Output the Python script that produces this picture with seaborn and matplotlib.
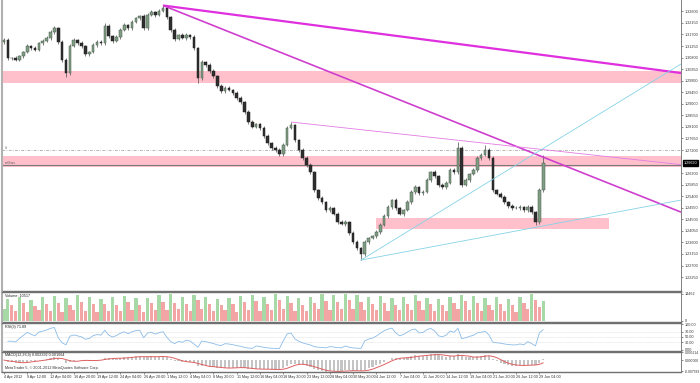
import matplotlib
matplotlib.use("Agg")
import numpy as np
import pandas as pd
import matplotlib.pyplot as plt
import seaborn as sns

# ---------------- data ----------------
first_open = 1.3140
closes = [
    1.3149, 1.3078, 1.3078, 1.3071, 1.3086, 1.3102, 1.3125, 1.3117, 1.3110, 1.3137,
    1.3145, 1.3156, 1.3180, 1.3195, 1.3141, 1.3071, 1.3020, 1.3125, 1.3149, 1.3137,
    1.3125, 1.3094, 1.3102, 1.3129, 1.3141, 1.3137, 1.3203, 1.3164, 1.3145, 1.3160,
    1.3188, 1.3207, 1.3195, 1.3219, 1.3234, 1.3242, 1.3195, 1.3246, 1.3258, 1.3246,
    1.3262, 1.3273, 1.3238, 1.3188, 1.3153, 1.3168, 1.3156, 1.3168, 1.3160, 1.3117,
    1.3001, 1.3063, 1.3051, 1.3028, 1.3008, 1.2969, 1.2950, 1.2962, 1.2954, 1.2942,
    1.2923, 1.2907, 1.2868, 1.2829, 1.2810, 1.2821, 1.2806, 1.2775, 1.2747, 1.2728,
    1.2720, 1.2704, 1.2740, 1.2806, 1.2817, 1.2759, 1.2720, 1.2689, 1.2662, 1.2634,
    1.2564, 1.2533, 1.2517, 1.2486, 1.2494, 1.2471, 1.2440, 1.2432, 1.2440, 1.2397,
    1.2362, 1.2338, 1.2315, 1.2362, 1.2377, 1.2385, 1.2401, 1.2428, 1.2463, 1.2498,
    1.2525, 1.2494, 1.2471, 1.2486, 1.2517, 1.2556, 1.2576, 1.2552, 1.2556, 1.2603,
    1.2634, 1.2619, 1.2584, 1.2576, 1.2591, 1.2642, 1.2634, 1.2728, 1.2584, 1.2603,
    1.2626, 1.2642, 1.2689, 1.2701, 1.2720, 1.2689, 1.2564, 1.2549, 1.2537, 1.2517,
    1.2502, 1.2494, 1.2494, 1.2498, 1.2486, 1.2498, 1.2478, 1.2440, 1.2564, 1.2669,
]
hi_pips = [
    8, 6, 5, 7, 6, 5, 8, 6, 7, 5,
    6, 7, 6, 10, 5, 6, 7, 8, 6, 5,
    7, 6, 5, 8, 6, 7, 12, 6, 5, 7,
    6, 8, 5, 7, 6, 5, 9, 6, 7, 5,
    6, 10, 7, 6, 8, 5, 7, 6, 5, 8,
    6, 9, 5, 7, 6, 5, 8, 6, 7, 5,
    6, 7, 5, 6, 8, 6, 5, 7, 6, 5,
    7, 6, 8, 9, 12, 6, 5, 7, 6, 8,
    6, 5, 7, 6, 8, 5, 6, 7, 9, 5,
    6, 7, 5, 8, 6, 5, 7, 6, 8, 9,
    6, 7, 5, 6, 8, 7, 6, 5, 7, 8,
    6, 7, 5, 6, 7, 8, 6, 23, 7, 6,
    5, 7, 8, 6, 19, 7, 6, 5, 7, 6,
    5, 7, 6, 8, 5, 6, 7, 5, 8, 31,
]
lo_pips = [
    6, 9, 7, 6, 5, 7, 6, 8, 5, 6,
    7, 5, 6, 7, 8, 9, 15, 6, 5, 7,
    6, 8, 7, 5, 6, 7, 6, 8, 7, 5,
    6, 5, 7, 6, 5, 7, 9, 6, 5, 7,
    5, 6, 8, 9, 7, 6, 5, 7, 6, 9,
    20, 7, 6, 8, 7, 9, 6, 7, 5, 6,
    7, 8, 9, 7, 6, 5, 7, 8, 6, 7,
    6, 9, 7, 5, 6, 8, 7, 6, 9, 8,
    7, 6, 8, 7, 6, 5, 7, 6, 8, 7,
    8, 9, 24, 6, 7, 5, 6, 7, 5, 6,
    7, 8, 6, 7, 5, 6, 7, 8, 6, 5,
    6, 7, 8, 6, 7, 5, 6, 7, 9, 6,
    7, 5, 6, 7, 6, 8, 7, 6, 5, 7,
    6, 7, 5, 6, 8, 7, 6, 12, 9, 7,
]
volumes = [
    6200, 11800, 8400, 5100, 12600, 9300, 4800, 11200, 7900, 5600,
    12900, 8800, 5200, 13400, 9600, 4700, 12100, 8300, 5900, 13800,
    10200, 5400, 12400, 8700, 4900, 11600, 9100, 5300, 12800, 8600,
    5000, 13200, 9900, 5700, 12300, 8200, 4600, 11900, 9400, 5800,
    13600, 10100, 5500, 14100, 9700, 6100, 12700, 8900, 5200, 13900,
    10800, 6300, 12500, 9200, 5100, 11700, 8500, 5600, 12200, 9000,
    4900, 13100, 9800, 6000, 13700, 10400, 5300, 12600, 8800, 5700,
    14300, 10900, 6400, 13300, 9500, 5000, 12000, 8600, 5400, 12900,
    9300, 6200, 14000, 10600, 5800, 13500, 9900, 6100, 14200, 11000,
    6500, 13800, 10200, 5600, 12800, 9100, 5900, 13400, 9600, 5200,
    12100, 8400, 5500, 12700, 9200, 6000, 13600, 10300, 5700, 12300,
    8900, 5100, 11800, 8300, 5400, 12500, 9400, 6100, 13900, 10700,
    5800, 13200, 9700, 5300, 12000, 8600, 5600, 12600, 9000, 5000,
    11500, 8200, 4800, 12400, 9500, 6300, 14400, 11200, 7400, 10517,
]
date_labels = [
    "4 Apr 2012", "9 Apr 12:00", "12 Apr 04:00", "16 Apr 20:00", "19 Apr 12:00",
    "24 Apr 04:00", "26 Apr 20:00", "1 May 12:00", "4 May 04:00", "8 May 20:00",
    "11 May 12:00", "16 May 04:00", "18 May 20:00", "23 May 12:00", "28 May 04:00",
    "30 May 20:00", "4 Jun 12:00", "7 Jun 04:00", "11 Jun 20:00", "14 Jun 12:00",
    "19 Jun 04:00", "21 Jun 20:00", "26 Jun 12:00", "29 Jun 04:00",
]
date_bars = [0, 6, 12, 18, 24, 30, 36, 42, 48, 54, 60, 66, 72, 78, 84, 90,
             96, 102, 108, 114, 120, 126, 132, 138]
price_ticks = [1.3260, 1.3215, 1.3170, 1.3125, 1.3080, 1.3035, 1.2990, 1.2945,
               1.2900, 1.2855, 1.2810, 1.2765, 1.2720, 1.2630, 1.2585, 1.2540,
               1.2495, 1.2450, 1.2405, 1.2360, 1.2315, 1.2270, 1.2225]
last_price = 1.2669
last_price_text = "1.26690"
zone_full = [(1.2981, 1.3028), (1.2654, 1.2697)]
zone_part = (1.2412, 1.2455, 96, 156)
dashed_level = 1.2720
bid_level = 1.2660
magenta_lines = [((41, 1.3283), (174.5, 1.3020)),
                 ((41, 1.3283), (174.5, 1.2478)),
                 ((74, 1.2829), (174.5, 1.2663))]
cyan_lines = [((92, 1.2291), (174.5, 1.3055)),
              ((92, 1.2291), (174.5, 1.2525))]
rsi_levels = [70, 50, 30]
rsi_ticks = [100, 70, 50, 30, 0]
rsi_tick_text = ["100.00", "70.00", "50.00", "30.00", "0.00"]
vol_ticks = [14462, 0]
macd_ticks = [0.005214, 0.0, -0.007583]
macd_tick_text = ["0.005214", "0.000000", "-0.007583"]
vol_title = "Volume: 10517"
rsi_title = "RSI(9) 71.89"
macd_title = "MACD(12,26,9) 0.002392 0.001664"
copyright_text = "MetaTrader 5, \u00a9 2001-2012 MetaQuotes Software Corp."

# ---------------- derived series ----------------
RSI_N = 5
MACD_F, MACD_S, MACD_SIG = 6, 13, 4
n = len(closes)
idx = np.arange(n)
c = np.array(closes)
o = np.concatenate([[first_open], c[:-1]])
hi = np.maximum(o, c) + np.array(hi_pips) * 1e-4
lo = np.minimum(o, c) - np.array(lo_pips) * 1e-4

cs = pd.Series(np.concatenate([[first_open], c]))
d = cs.diff().iloc[1:].reset_index(drop=True)
au = d.clip(lower=0).ewm(alpha=1 / RSI_N, adjust=False).mean()
ad = (-d).clip(lower=0).ewm(alpha=1 / RSI_N, adjust=False).mean()
rsi = 100 - 100 / (1 + au / ad.replace(0, np.nan))
s = pd.Series(c)
macd = s.ewm(span=MACD_F, adjust=False).mean() - s.ewm(span=MACD_S, adjust=False).mean()
signal = macd.rolling(MACD_SIG, min_periods=1).mean()

df_rsi = pd.DataFrame({"bar": idx, "rsi": rsi})
df_sig = pd.DataFrame({"bar": idx, "sig": signal})

# ---------------- figure ----------------
sns.set_style("white")
plt.rcParams["font.family"] = ["Liberation Sans", "DejaVu Sans"]
FS = 2.7
W, H = 700, 383
fig = plt.figure(figsize=(7, 3.83), dpi=100)
fig.patch.set_facecolor("white")


def rect(x0, y0, x1, y1):
    return [x0 / W, 1 - y1 / H, (x1 - x0) / W, (y1 - y0) / H]


ax = fig.add_axes(rect(2, 0, 681, 291))
axv = fig.add_axes(rect(2, 292, 681, 322), sharex=ax)
axr = fig.add_axes(rect(2, 323, 681, 351), sharex=ax)
axm = fig.add_axes(rect(2, 352, 681, 372), sharex=ax)
XL = (-0.5, 174.5)

for a in (ax, axv, axr, axm):
    a.set_facecolor("white")
    a.yaxis.tick_right()
    a.tick_params(axis="y", labelsize=FS, length=1.5, width=0.4, pad=1,
                  colors="#333333")
    a.spines["left"].set_color("#b0b0b0")
    a.spines["left"].set_linewidth(1.5)
    a.spines["right"].set_color("#808080")
    a.spines["right"].set_linewidth(0.7)
    a.spines["top"].set_color("#707070")
    a.spines["top"].set_linewidth(1.0)
    a.spines["bottom"].set_color("#707070")
    a.spines["bottom"].set_linewidth(1.0)
    a.tick_params(axis="x", bottom=False, labelbottom=False)
ax.spines["top"].set_visible(False)

# main price panel
ax.set_xlim(*XL)
ax.set_ylim(1.21707, 1.33044)
for z0, z1 in zone_full:
    ax.axhspan(z0, z1, color="#ffc0cb", lw=0, zorder=0)
ax.fill_between([zone_part[2], zone_part[3]], zone_part[0], zone_part[1],
                color="#ffc0cb", lw=0, zorder=0)
ax.axhline(dashed_level, color="#9a9a9a", lw=0.5,
           ls=(0, (4, 2, 1, 2)), zorder=1)
ax.axhline(bid_level, color="#7a7a7a", lw=0.8, zorder=1)

up = c >= o
ax.vlines(idx, lo, hi, color="#5a5a5a", lw=0.55, zorder=3)
body = np.maximum(np.abs(c - o), 0.00015)
ax.bar(idx, body, bottom=np.minimum(o, c), width=0.66,
       color=np.where(up, "#7f9c84", "#2e2e2e"),
       edgecolor=np.where(up, "#4a5e4e", "#1e1e1e"), linewidth=0.35, zorder=4)

mag_w = [1.6, 1.2, 0.6]
mag_c = ["#df2fdf", "#cf3fcf", "#e37be3"]
for (p0, p1), lw, col in zip(magenta_lines, mag_w, mag_c):
    ax.plot([p0[0], p1[0]], [p0[1], p1[1]], color=col, lw=lw, zorder=5,
            solid_capstyle="butt")
for p0, p1 in cyan_lines:
    ax.plot([p0[0], p1[0]], [p0[1], p1[1]], color="#86d3e6", lw=0.6, zorder=5)

ax.set_yticks(price_ticks)
ax.set_yticklabels([f"{p:.5f}" for p in price_ticks])
ax.text(1.004, last_price, last_price_text, transform=ax.get_yaxis_transform(),
        ha="left", va="center", color="white", fontsize=FS,
        bbox=dict(boxstyle="square,pad=0.2", fc="black", ec="black"),
        clip_on=False, zorder=10)
ax.text(0.004, dashed_level, "#", transform=ax.get_yaxis_transform(),
        ha="left", va="bottom", fontsize=FS, color="#555555")
ax.text(0.004, bid_level, "ref/ton", transform=ax.get_yaxis_transform(),
        ha="left", va="bottom", fontsize=FS, color="#555555")

# volume panel
vcol = ["#a6d9a6"] + ["#a6d9a6" if volumes[i] > volumes[i - 1] else "#f3a5a5"
                      for i in range(1, n)]
axv.bar(idx, volumes, width=0.85, color=vcol, lw=0)
axv.set_ylim(-600, 15300)
axv.set_yticks(vol_ticks)
axv.set_yticklabels([str(v) for v in vol_ticks])
axv.text(0.004, 0.93, vol_title, transform=axv.transAxes, ha="left", va="top",
         fontsize=FS, color="#222222")

# RSI panel
for lv in rsi_levels:
    axr.axhline(lv, color="#d0d0d0", lw=0.4, ls=(0, (1, 1)))
sns.lineplot(data=df_rsi, x="bar", y="rsi", ax=axr, color="#8cbce8", lw=0.6)
axr.set_ylim(-5, 105)
axr.set_yticks(rsi_ticks)
axr.set_yticklabels(rsi_tick_text)
axr.set_xlabel("")
axr.set_ylabel("")
axr.text(0.004, 0.93, rsi_title, transform=axr.transAxes, ha="left", va="top",
         fontsize=FS, color="#222222")

# MACD panel
axm.bar(idx, macd, width=0.55, color="#c4c4c4", lw=0)
sns.lineplot(data=df_sig, x="bar", y="sig", ax=axm, color="#e06060", lw=0.7)
axm.set_ylim(-0.0080, 0.0054)
axm.set_yticks(macd_ticks)
axm.set_yticklabels(macd_tick_text)
axm.tick_params(axis="y", labelsize=2.4)
axm.set_xlabel("")
axm.set_ylabel("")
axm.text(0.004, 0.93, macd_title, transform=axm.transAxes, ha="left", va="top",
         fontsize=FS, color="#222222")
axm.text(0.004, 0.12, copyright_text, transform=axm.transAxes, ha="left",
         va="bottom", fontsize=FS, color="#333333")

axm.set_xlim(*XL)
axm.tick_params(axis="x", bottom=True, labelbottom=True, labelsize=FS,
                length=1.5, width=0.4, pad=0.8, colors="#333333")
axm.set_xticks(date_bars)
axm.set_xticklabels(date_labels)
for lab in axm.get_xticklabels():
    lab.set_ha("left")

fig.savefig("out.png", dpi=100, facecolor="white")
